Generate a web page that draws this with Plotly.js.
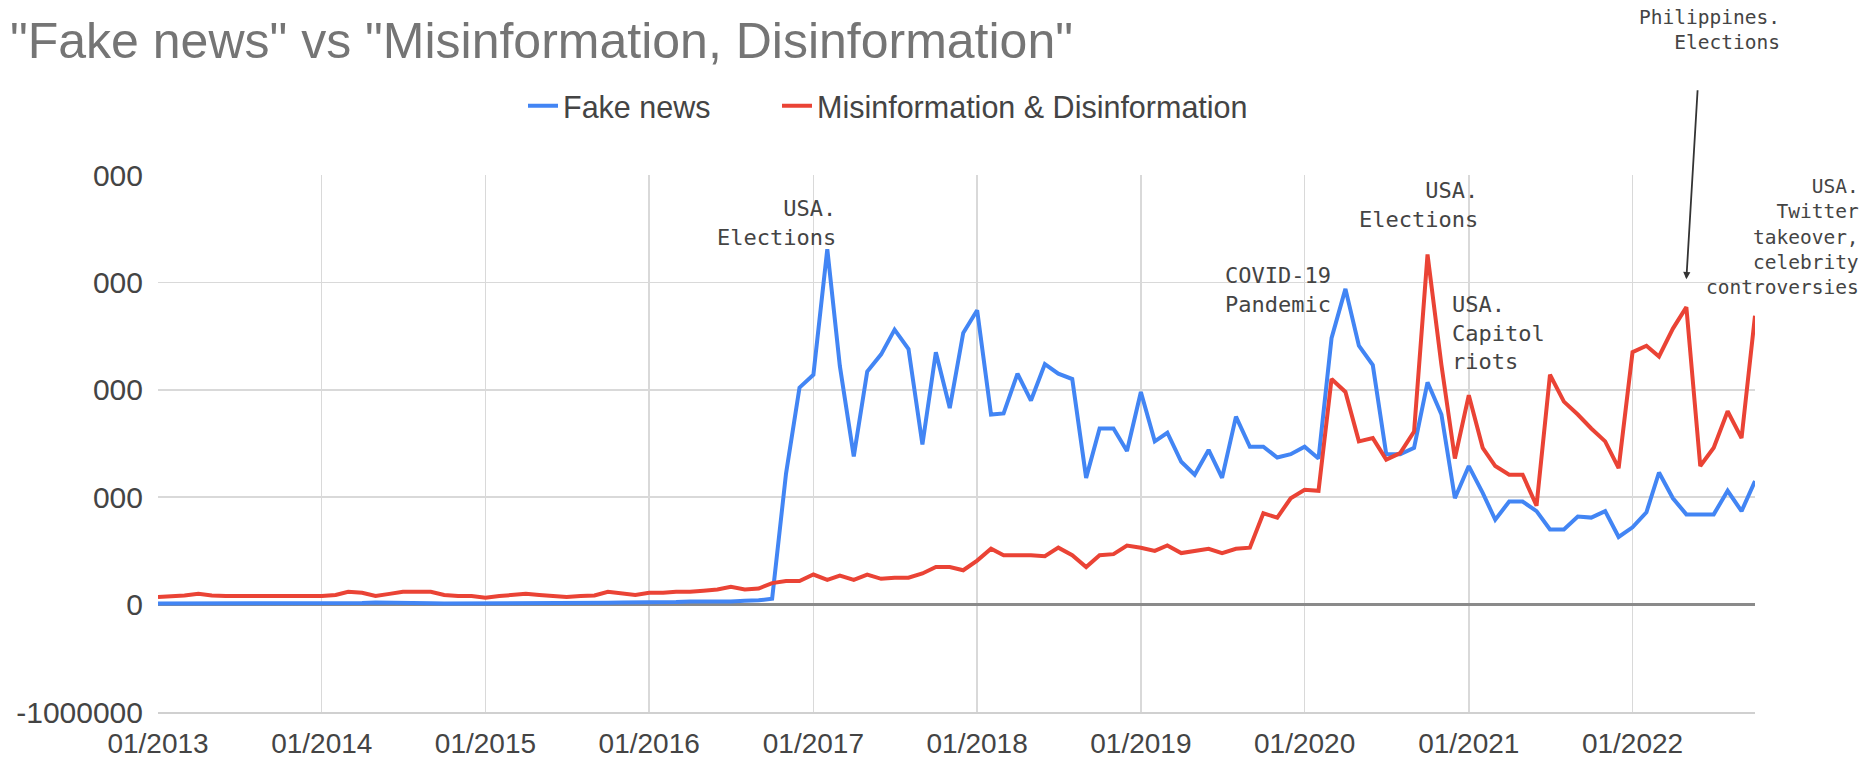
<!DOCTYPE html>
<html><head><meta charset="utf-8">
<script src="https://cdn.plot.ly/plotly-3.0.1.min.js"></script>
<style>html,body{margin:0;padding:0;background:#fff}#chart{width:1866px;height:760px}</style>
</head><body><div id="chart"></div>
<script>
// Monthly data, January 2013 to October 2022 (values in millions)
const firstYear = 2013;
const fakeNews = [
  0.010,0.010,0.012,0.010,0.010,0.010,0.010,0.012,0.010,0.010,0.010,0.010,
  0.010,0.010,0.012,0.015,0.020,0.020,0.015,0.012,0.012,0.010,0.010,0.010,
  0.010,0.012,0.012,0.015,0.015,0.015,0.012,0.015,0.015,0.018,0.020,0.020,
  0.020,0.022,0.025,0.030,0.030,0.025,0.028,0.035,0.040,0.055,1.220,2.020,
  2.140,3.310,2.220,1.380,2.170,2.330,2.560,2.380,1.490,2.350,1.830,2.530,
  2.740,1.770,1.780,2.150,1.900,2.240,2.150,2.100,1.180,1.640,1.640,1.430,
  1.980,1.520,1.600,1.330,1.210,1.440,1.180,1.750,1.470,1.470,1.370,1.400,
  1.470,1.360,2.480,2.940,2.410,2.230,1.400,1.400,1.460,2.070,1.770,0.990,
  1.290,1.040,0.790,0.960,0.960,0.870,0.700,0.700,0.820,0.810,0.870,0.630,
  0.720,0.860,1.230,0.990,0.840,0.840,0.840,1.060,0.870,1.150
];
const misDis = [
  0.070,0.075,0.085,0.100,0.085,0.080,0.080,0.080,0.085,0.085,0.085,0.080,
  0.080,0.090,0.120,0.110,0.080,0.100,0.120,0.120,0.120,0.090,0.080,0.080,
  0.065,0.080,0.090,0.100,0.090,0.080,0.070,0.080,0.085,0.120,0.100,0.090,
  0.110,0.110,0.120,0.120,0.130,0.140,0.165,0.140,0.150,0.200,0.220,0.220,
  0.280,0.230,0.270,0.230,0.280,0.240,0.250,0.250,0.290,0.350,0.350,0.320,
  0.410,0.520,0.460,0.460,0.460,0.450,0.530,0.460,0.350,0.460,0.470,0.550,
  0.530,0.500,0.550,0.480,0.500,0.520,0.480,0.520,0.530,0.850,0.810,0.990,
  1.070,1.060,2.100,1.980,1.520,1.550,1.350,1.410,1.610,3.260,2.230,1.360,
  1.950,1.460,1.290,1.210,1.210,0.920,2.140,1.890,1.770,1.640,1.520,1.270,
  2.350,2.410,2.310,2.570,2.770,1.290,1.460,1.800,1.550,2.690
];
const seriesNames = ['Fake news', 'Misinformation & Disinformation'];
const yTickVals = [-1000000, 0, 1000000, 2000000, 3000000, 4000000];
const yTickText = ['-1000000', '0', '000', '000', '000', '000'];
const xTickYears = [2013,2014,2015,2016,2017,2018,2019,2020,2021,2022];
const xTickText = ['01/2013','01/2014','01/2015','01/2016','01/2017','01/2018','01/2019','01/2020','01/2021','01/2022'];

function monthDate(i) {
  const y = firstYear + Math.floor(i / 12);
  const m = (i % 12) + 1;
  return y + '-' + (m < 10 ? '0' + m : m) + '-01';
}
const months = fakeNews.map((_, i) => monthDate(i));
const xTickVals = xTickYears.map(y => y + '-01-01');

const traces = [
  { x: months, y: fakeNews.map(v => v * 1e6), name: seriesNames[0], type: 'scatter', mode: 'lines',
    line: { color: '#4285f4', width: 4 }, legend: 'legend' },
  { x: months, y: misDis.map(v => v * 1e6), name: seriesNames[1], type: 'scatter', mode: 'lines',
    line: { color: '#ea4335', width: 4 }, legend: 'legend2' }
];

const annFont = { family: 'DejaVu Sans Mono, monospace', size: 22, color: '#444' };
const annFontS = { family: 'DejaVu Sans Mono, monospace', size: 19.5, color: '#444' };
const legendFont = { family: 'Liberation Sans, Arial, sans-serif', size: 30.5, color: '#444' };

const layout = {
  width: 1866, height: 760,
  margin: { l: 158, r: 111, t: 175, b: 48 },
  paper_bgcolor: '#fff', plot_bgcolor: '#fff',
  title: { text: '"Fake news" vs "Misinformation, Disinformation"',
    x: 10 / 1866, xref: 'container', xanchor: 'left',
    y: 1 - 40 / 760, yref: 'container', yanchor: 'middle',
    font: { family: 'Liberation Sans, Arial, sans-serif', size: 50, color: '#757575' } },
  showlegend: true,
  legend: { orientation: 'h', xref: 'container', x: 523 / 1866, xanchor: 'left',
    yref: 'container', y: 1 - 106 / 760, yanchor: 'middle', font: legendFont, itemwidth: 30 },
  legend2: { orientation: 'h', xref: 'container', x: 777 / 1866, xanchor: 'left',
    yref: 'container', y: 1 - 106 / 760, yanchor: 'middle', font: legendFont, itemwidth: 30 },
  xaxis: { type: 'date', range: ['2013-01-01', '2022-10-01'],
    tickvals: xTickVals, ticktext: xTickText,
    showgrid: true, gridcolor: '#d9d9d9', gridwidth: 1.5,
    showline: true, linecolor: '#d0d0d0', linewidth: 2,
    ticks: 'outside', ticklen: 5, tickcolor: 'rgba(0,0,0,0)',
    tickfont: { family: 'Liberation Sans, Arial, sans-serif', size: 28, color: '#444' },
    zeroline: false, fixedrange: true },
  yaxis: { range: [-1000000, 4000000], tickvals: yTickVals, ticktext: yTickText,
    showgrid: true, gridcolor: '#d9d9d9', gridwidth: 1.5,
    zeroline: true, zerolinecolor: '#8a8a8a', zerolinewidth: 2.5,
    ticks: 'outside', ticklen: 8, tickcolor: 'rgba(0,0,0,0)',
    tickfont: { family: 'Liberation Sans, Arial, sans-serif', size: 30, color: '#444' },
    fixedrange: true },
  annotations: [
    { text: 'USA.<br>Elections', xref: 'x', yref: 'y', x: '2017-02-25', y: 3550000,
      xanchor: 'right', yanchor: 'middle', align: 'right', showarrow: false, font: annFont },
    { text: 'COVID-19<br>Pandemic', xref: 'x', yref: 'y', x: '2019-07-03', y: 2930000,
      xanchor: 'left', yanchor: 'middle', align: 'left', showarrow: false, font: annFont },
    { text: 'USA.<br>Elections', xref: 'x', yref: 'y', x: '2021-01-25', y: 3720000,
      xanchor: 'right', yanchor: 'middle', align: 'right', showarrow: false, font: annFont },
    { text: 'USA.<br>Capitol<br>riots', xref: 'x', yref: 'y', x: '2020-11-19', y: 2530000,
      xanchor: 'left', yanchor: 'middle', align: 'left', showarrow: false, font: annFont },
    { text: 'Philippines.<br>Elections', xref: 'paper', yref: 'paper', x: 1.0169, y: 1.2700,
      xanchor: 'right', yanchor: 'middle', align: 'right', showarrow: false, font: annFontS },
    { text: ' ', xref: 'x', yref: 'y', x: '2022-05-01', y: 3030000,
      showarrow: true, ax: 12, ay: -202, arrowhead: 2, arrowsize: 0.8, arrowwidth: 1.8,
      arrowcolor: '#333', standoff: 0, font: annFontS },
    { text: 'USA.<br>Twitter<br>takeover,<br>celebrity<br>controversies', xref: 'paper', yref: 'paper',
      x: 1.0664, y: 0.8845,
      xanchor: 'right', yanchor: 'middle', align: 'right', showarrow: false, font: annFontS }
  ]
};

Plotly.newPlot('chart', traces, layout, { displayModeBar: false, staticPlot: true });
</script>
</body></html>
